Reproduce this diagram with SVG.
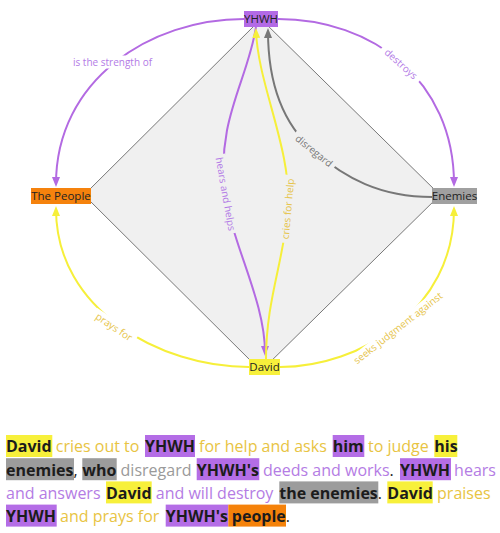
<svg xmlns="http://www.w3.org/2000/svg" width="500" height="533" viewBox="0 0 500 533">
<style>
.lbl{font-family:"Open Sans","DejaVu Sans",sans-serif;font-size:10px;text-anchor:middle}
.lp{fill:#b37be6}.ly{fill:#e6c44a}.lg{fill:#777777}
.e{fill:none;stroke-width:2}
.sp{stroke:#b36ae2}.sy{stroke:#f6ef3a}.sg{stroke:#777777}
.node text{font-family:"Open Sans","DejaVu Sans",sans-serif;font-size:11.5px;fill:#222222;text-anchor:middle}
.para{font-family:"Open Sans","DejaVu Sans",sans-serif;font-size:16px;white-space:pre}
.b{font-weight:700;fill:#1c1c1c}
.k{fill:#1c1c1c}
.ty{fill:#e8c443}.tp{fill:#b47ce4}.tg{fill:#9a9a9a}
.hy{fill:#f7f03b}.hp{fill:#b46de6}.hg{fill:#9c9c9c}.ho{fill:#f5820a}
</style>
<defs>
<marker id="ap" viewBox="0 0 10 8" refX="7" refY="4" markerWidth="10" markerHeight="8" markerUnits="userSpaceOnUse" orient="auto"><path d="M0,0 L10,4 L0,8 z" fill="#b36ae2"/></marker>
<marker id="ay" viewBox="0 0 10 8" refX="7" refY="4" markerWidth="10" markerHeight="8" markerUnits="userSpaceOnUse" orient="auto"><path d="M0,0 L10,4 L0,8 z" fill="#f6ef3a"/></marker>
<marker id="ag" viewBox="0 0 10 8" refX="7" refY="4" markerWidth="10" markerHeight="8" markerUnits="userSpaceOnUse" orient="auto"><path d="M0,0 L10,4 L0,8 z" fill="#777777"/></marker>
</defs>
<rect width="500" height="533" fill="#ffffff"/>
<polygon id="diamond" points="261,19 440,195 261,371 84,195" fill="#f0f0f0" stroke="#777777" stroke-width="1"/>
<g id="connectors">
<path class="e sp" d="M244,19 C150,19 56,80 56,184" marker-end="url(#ap)"/>
<path class="e sp" d="M278,19 C372,19 454,80 454,184" marker-end="url(#ap)"/>
<path class="e sy" d="M249,367 C160,367 56,310 56,209" marker-end="url(#ay)"/>
<path class="e sy" d="M280,367 C360,367 454,310 454,209" marker-end="url(#ay)"/>
<path class="e sp" d="M256,27 C248,80 216,120 225,192 C232,245 265,300 265,353" marker-end="url(#ap)"/>
<path class="e sy" d="M266,359 C266,300 284,260 288,209 C292,150 258,85 256,31" marker-end="url(#ay)"/>
<path class="e sg" d="M432,197 C380,197 345,178 314,151 C283,124 268,85 268,31" marker-end="url(#ag)"/>
<g transform="translate(112.5,62)"><rect x="-43" y="-6.5" width="86" height="13" fill="#ffffff"/><text class="lbl lp" x="0" y="3.5">is the strength of</text></g>
<g transform="translate(401,64) rotate(42)"><rect x="-25" y="-6.5" width="50" height="13" fill="#ffffff"/><text class="lbl lp" x="0" y="3.5">destroys</text></g>
<g transform="translate(225.5,194) rotate(80)"><rect x="-40" y="-6.5" width="80" height="13" fill="#f0f0f0"/><text class="lbl lp" x="0" y="3.5">hears and helps</text></g>
<g transform="translate(288,209) rotate(-85)"><rect x="-34" y="-6.5" width="68" height="13" fill="#f0f0f0"/><text class="lbl ly" x="0" y="3.5">cries for help</text></g>
<g transform="translate(314,151) rotate(39)"><rect x="-26" y="-6.5" width="52" height="13" fill="#f0f0f0"/><text class="lbl lg" x="0" y="3.5">disregard</text></g>
<g transform="translate(114,327) rotate(34)"><rect x="-25" y="-6.5" width="50" height="13" fill="#ffffff"/><text class="lbl ly" x="0" y="3.5">prays for</text></g>
<g transform="translate(398,328) rotate(-38)"><rect x="-57" y="-6.5" width="114" height="13" fill="#ffffff"/><text class="lbl ly" x="0" y="3.5">seeks judgment against</text></g>
</g>
<g id="node-yhwh" class="node"><rect x="244" y="11" width="34" height="16" fill="#b36ae6"/><text x="261" y="23">YHWH</text></g>
<g id="node-people" class="node"><rect x="31" y="188" width="60" height="16" fill="#f5820d"/><text x="61" y="200">The People</text></g>
<g id="node-enemies" class="node"><rect x="432" y="188" width="45" height="16" fill="#a0a0a0"/><text x="454.5" y="200">Enemies</text></g>
<g id="node-david" class="node"><rect x="249" y="359" width="31" height="16" fill="#f7f03b"/><text x="264.5" y="371">David</text></g>
<g id="summary">
<rect class="hy" x="6" y="435" width="46.3" height="22"/>
<rect class="hp" x="145" y="435" width="50" height="22"/>
<rect class="hp" x="332.7" y="435" width="31.6" height="22"/>
<rect class="hy" x="434.3" y="435" width="23" height="22"/>
<rect class="hg" x="6" y="458.2" width="68" height="22"/>
<rect class="hg" x="82.3" y="458.2" width="34.4" height="22"/>
<rect class="hp" x="196.7" y="458.2" width="62.6" height="22"/>
<rect class="hp" x="400" y="458.2" width="51" height="22"/>
<rect class="hy" x="106" y="481.4" width="45.7" height="22"/>
<rect class="hg" x="279.3" y="481.4" width="99" height="22"/>
<rect class="hy" x="387.3" y="481.4" width="45.4" height="22"/>
<rect class="hp" x="6" y="504.6" width="50.7" height="22"/>
<rect class="hp" x="165.7" y="504.6" width="62.6" height="22"/>
<rect class="ho" x="228.3" y="504.6" width="57.7" height="22"/>
<text class="para" y="452.3"><tspan x="6" class="b">David</tspan><tspan class="ty"> cries out to </tspan><tspan x="145" class="b">YHWH</tspan><tspan class="ty"> for help and asks </tspan><tspan x="332.7" class="b">him</tspan><tspan class="ty"> to judge </tspan><tspan x="434.3" class="b">his</tspan></text>
<text class="para" y="475.5"><tspan x="6" class="b">enemies</tspan><tspan class="k">, </tspan><tspan x="82.3" class="b">who</tspan><tspan class="tg"> disregard </tspan><tspan x="196.7" class="b">YHWH's</tspan><tspan class="tp"> deeds and works</tspan><tspan class="k">. </tspan><tspan x="400" class="b">YHWH</tspan><tspan class="tp"> hears</tspan></text>
<text class="para" y="498.7"><tspan x="6" class="tp">and answers </tspan><tspan x="106" class="b">David</tspan><tspan class="tp"> and will destroy </tspan><tspan x="279.3" class="b">the enemies</tspan><tspan class="k">. </tspan><tspan x="387.3" class="b">David</tspan><tspan class="ty"> praises</tspan></text>
<text class="para" y="521.9"><tspan x="6" class="b">YHWH</tspan><tspan class="ty"> and prays for </tspan><tspan x="165.7" class="b">YHWH's</tspan><tspan x="231.8" class="b">people</tspan><tspan class="k">.</tspan></text>
</g>
</svg>
